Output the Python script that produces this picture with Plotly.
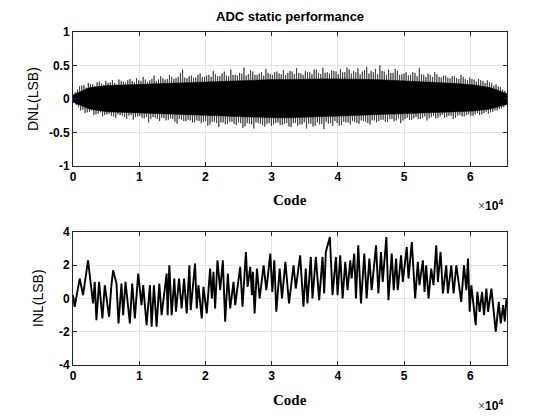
import plotly.graph_objects as go

# ---------------- data ----------------
# DNL: spike envelope (upper / lower) read at 100 evenly spaced codes (0 .. 65535)
dnl_upper = [0.05, 0.14, 0.20, 0.17, 0.22, 0.19, 0.26, 0.21, 0.24, 0.28,
             0.22, 0.27, 0.24, 0.30, 0.25, 0.28, 0.33, 0.26, 0.30, 0.27,
             0.34, 0.29, 0.36, 0.30, 0.33, 0.44, 0.31, 0.35, 0.32, 0.38,
             0.33, 0.36, 0.42, 0.34, 0.38, 0.35, 0.44, 0.36, 0.39, 0.47,
             0.37, 0.41, 0.36, 0.40, 0.45, 0.37, 0.40, 0.38, 0.43, 0.39,
             0.41, 0.46, 0.38, 0.42, 0.40, 0.44, 0.39, 0.47, 0.40, 0.43,
             0.41, 0.45, 0.40, 0.44, 0.42, 0.46, 0.41, 0.48, 0.42, 0.45,
             0.50, 0.41, 0.44, 0.39, 0.42, 0.37, 0.40, 0.36, 0.39, 0.46,
             0.36, 0.38, 0.33, 0.37, 0.32, 0.35, 0.31, 0.34, 0.30, 0.33,
             0.28, 0.30, 0.26, 0.28, 0.24, 0.25, 0.20, 0.19, 0.14, 0.05]
dnl_lower = [-0.04, -0.12, -0.16, -0.20, -0.17, -0.23, -0.20, -0.24, -0.22, -0.26,
             -0.23, -0.25, -0.30, -0.24, -0.27, -0.25, -0.29, -0.35, -0.27, -0.30,
             -0.28, -0.32, -0.29, -0.34, -0.30, -0.33, -0.31, -0.35, -0.32, -0.36,
             -0.33, -0.38, -0.34, -0.42, -0.35, -0.37, -0.34, -0.39, -0.36, -0.41,
             -0.37, -0.44, -0.36, -0.39, -0.37, -0.40, -0.36, -0.39, -0.37, -0.41,
             -0.36, -0.40, -0.38, -0.44, -0.37, -0.40, -0.38, -0.45, -0.37, -0.40,
             -0.36, -0.39, -0.35, -0.38, -0.34, -0.37, -0.33, -0.36, -0.32, -0.35,
             -0.31, -0.34, -0.30, -0.33, -0.29, -0.32, -0.28, -0.31, -0.27, -0.30,
             -0.26, -0.29, -0.25, -0.28, -0.24, -0.27, -0.25, -0.28, -0.24, -0.26,
             -0.23, -0.25, -0.21, -0.23, -0.19, -0.20, -0.17, -0.15, -0.12, -0.05]
# second reading of the spikes, half-way between the codes above (99 values)
dnl_upper2 = [0.10, 0.19, 0.21, 0.24, 0.22, 0.25, 0.23, 0.27, 0.25, 0.24,
              0.29, 0.26, 0.28, 0.27, 0.31, 0.27, 0.29, 0.28, 0.35, 0.29,
              0.31, 0.30, 0.33, 0.31, 0.39, 0.32, 0.34, 0.31, 0.36, 0.33,
              0.35, 0.33, 0.37, 0.34, 0.41, 0.34, 0.36, 0.35, 0.38, 0.35,
              0.43, 0.36, 0.38, 0.35, 0.39, 0.36, 0.41, 0.37, 0.36, 0.42,
              0.37, 0.39, 0.36, 0.40, 0.37, 0.44, 0.37, 0.39, 0.38, 0.42,
              0.37, 0.40, 0.47, 0.38, 0.40, 0.37, 0.43, 0.38, 0.40, 0.37,
              0.42, 0.36, 0.39, 0.45, 0.36, 0.38, 0.35, 0.40, 0.34, 0.37,
              0.33, 0.36, 0.40, 0.33, 0.35, 0.32, 0.34, 0.31, 0.36, 0.30,
              0.32, 0.29, 0.30, 0.27, 0.28, 0.24, 0.22, 0.18, 0.12]
dnl_lower2 = [-0.09, -0.17, -0.21, -0.19, -0.24, -0.22, -0.26, -0.23, -0.25, -0.28,
              -0.24, -0.27, -0.25, -0.31, -0.26, -0.28, -0.27, -0.30, -0.28, -0.33,
              -0.29, -0.31, -0.30, -0.37, -0.31, -0.33, -0.32, -0.35, -0.33, -0.34,
              -0.40, -0.34, -0.36, -0.35, -0.38, -0.34, -0.37, -0.35, -0.43, -0.36,
              -0.38, -0.35, -0.37, -0.41, -0.36, -0.38, -0.35, -0.39, -0.36, -0.42,
              -0.36, -0.38, -0.35, -0.37, -0.41, -0.35, -0.37, -0.34, -0.36, -0.33,
              -0.40, -0.34, -0.35, -0.33, -0.36, -0.32, -0.34, -0.38, -0.32, -0.33,
              -0.31, -0.34, -0.30, -0.32, -0.36, -0.30, -0.31, -0.29, -0.30, -0.28,
              -0.32, -0.27, -0.29, -0.26, -0.28, -0.25, -0.30, -0.25, -0.26, -0.24,
              -0.25, -0.23, -0.24, -0.21, -0.22, -0.19, -0.17, -0.14, -0.09]
# DNL: solid core of the band, read at 27 evenly spaced codes
dnl_core_upper = [0.06, 0.17, 0.20, 0.21, 0.22, 0.23, 0.24, 0.25, 0.26, 0.27,
                  0.28, 0.28, 0.29, 0.29, 0.30, 0.30, 0.30, 0.30, 0.29, 0.28,
                  0.27, 0.26, 0.25, 0.23, 0.21, 0.17, 0.08]
dnl_core_lower = [-0.05, -0.15, -0.19, -0.20, -0.21, -0.22, -0.23, -0.24, -0.25, -0.26,
                  -0.27, -0.27, -0.28, -0.28, -0.28, -0.27, -0.26, -0.25, -0.24, -0.23,
                  -0.22, -0.21, -0.20, -0.19, -0.18, -0.15, -0.08]

# INL: peaks and troughs
inl_code = [0, 250, 1010, 1515, 2270, 2525, 3030, 3280, 3535, 3940,
            4440, 4800, 5450, 5800, 6060, 6565, 6870, 7320, 7575, 7930,
            8585, 8940, 9340, 9850, 10350, 10600, 11110, 11615, 11870, 12220,
            12625, 13030, 13380, 14140, 14290, 14545, 14900, 15300, 15550, 16010,
            16410, 16770, 17170, 17575, 17775, 18430, 18685, 18940, 19440, 19695,
            20200, 20705, 20960, 21210, 21460, 21815, 22220, 22625, 22980, 23380,
            23735, 24240, 24490, 25250, 25600, 26110, 26360, 26765, 27020, 27170,
            27420, 27775, 28180, 28785, 29190, 29795, 30100, 30400, 30700, 31210,
            31560, 32070, 32620, 33300, 33640, 34300, 34800, 35150, 35400, 35910,
            36160, 36670, 37170, 37680, 37930, 38180, 38790, 39190, 39700, 39950,
            40350, 40710, 41110, 41460, 41870, 42070, 42470, 42730, 43080, 43480,
            43990, 44340, 44750, 45100, 45760, 46110, 46510, 46770, 47320, 47630,
            48130, 48430, 48790, 49040, 49540, 49800, 50400, 50660, 51160, 51670,
            52070, 52320, 52830, 53080, 53330, 53690, 54090, 54440, 54850, 55100,
            55500, 55860, 56360, 56610, 57120, 57470, 57880, 58630, 59040, 59390,
            59645, 59900, 60150, 60810, 61060, 61410, 61770, 62070, 62420, 62675,
            63180, 63580, 63840, 64290, 64590, 64950, 65200, 65450, 65535]
inl_value = [0.2, -0.5, 1.2, 0.2, 2.3, 1.5, -0.3, 1.0, -1.3, 1.0,
             -1.2, 0.8, -1.1, 0.8, 1.7, 0.9, -1.5, 0.9, -1.0, 1.0,
             -1.5, 0.9, -1.2, 1.5, -0.4, 0.8, -1.6, 0.8, -1.7, 0.8,
             -1.7, 0.9, -1.0, 1.5, -1.0, 2.0, -1.0, 1.2, -0.8, 1.2,
             -0.6, 1.2, -0.9, 2.0, -0.7, 2.1, -0.6, 0.8, -1.2, 0.7,
             -0.9, 1.8, 0.0, 1.6, -0.6, 2.3, 0.5, 2.3, -1.4, 1.5,
             -0.6, 1.0, -0.4, 1.9, -0.5, 2.8, 0.7, 1.9, 0.2, 1.6,
             -0.9, 1.8, 0.0, 2.0, 0.5, 2.7, 0.4, 2.3, -0.8, 1.8,
             0.0, 2.2, -0.3, 2.0, 0.6, 2.6, -0.5, 1.8, -0.3, 2.5,
             0.0, 2.5, -0.1, 2.5, 0.3, 2.8, 3.7, 0.2, 2.5, 0.2,
             2.6, 0.0, 2.2, 0.5, 2.3, 1.2, 2.7, 0.0, 3.2, -0.3,
             2.7, 0.0, 2.4, 0.5, 3.2, 0.3, 2.8, 1.0, 3.7, -0.1,
             2.7, 0.5, 2.4, 0.5, 2.6, 1.0, 3.1, 1.2, 3.4, 0.0,
             2.2, 0.8, 2.3, 0.4, 2.0, 0.0, 1.8, 0.8, 3.2, 1.0,
             2.8, 0.3, 2.0, 0.3, 2.0, 0.3, 2.0, -0.2, 2.0, 0.5,
             2.4, -0.8, 0.8, -1.6, 0.4, -0.8, 0.4, -1.0, 0.6, -0.8,
             0.6, -1.0, -2.0, -0.2, -1.5, -0.4, -1.4, 0.0, -0.5]

x_tickvals = [0, 10000, 20000, 30000, 40000, 50000, 60000]
x_ticktext = ["0", "1", "2", "3", "4", "5", "6"]
dnl_ticks = [-1, -0.5, 0, 0.5, 1]
dnl_ticktext = ["-1", "-0.5", "0", "0.5", "1"]
inl_ticks = [-4, -2, 0, 2, 4]
inl_ticktext = ["-4", "-2", "0", "2", "4"]
max_code = 65535

# ---------------- figure ----------------
n = len(dnl_upper)
step = max_code / (n - 1)
dnl_x = [i * step for i in range(n)]
nc = len(dnl_core_upper)
core_x = [i * max_code / (nc - 1) for i in range(nc)]

# zig-zag through the spike readings
zz_x, zz_y = [], []
for i in range(n):
    zz_x.append(dnl_x[i]); zz_y.append(dnl_upper[i])
    zz_x.append(min(dnl_x[i] + step * 0.25, max_code)); zz_y.append(dnl_lower[i])
    if i < len(dnl_upper2):
        zz_x.append(dnl_x[i] + step * 0.5); zz_y.append(dnl_upper2[i])
        zz_x.append(dnl_x[i] + step * 0.75); zz_y.append(dnl_lower2[i])

fig = go.Figure()
fig.add_trace(go.Scatter(x=zz_x, y=zz_y, mode="lines",
                         line=dict(color="#262626", width=0.7),
                         xaxis="x", yaxis="y", showlegend=False))
fig.add_trace(go.Scatter(x=core_x + core_x[::-1], y=dnl_core_upper + dnl_core_lower[::-1],
                         fill="toself", fillcolor="black", mode="lines",
                         line=dict(color="black", width=0.5),
                         xaxis="x", yaxis="y", showlegend=False, hoverinfo="skip"))
fig.add_trace(go.Scatter(x=inl_code, y=inl_value, mode="lines",
                         line=dict(color="black", width=1.9),
                         xaxis="x2", yaxis="y2", showlegend=False))

tickfont = dict(family="Liberation Sans", size=12, color="black", weight="bold")
axis_common = dict(showline=True, linecolor="#262626", linewidth=1, mirror="ticks",
                   ticks="inside", ticklen=4, tickcolor="#262626",
                   showgrid=True, gridcolor="#e3e3e3", gridwidth=1,
                   zeroline=False, tickfont=tickfont, automargin=False)

fig.update_layout(
    width=560, height=420,
    paper_bgcolor="white", plot_bgcolor="white",
    margin=dict(l=73, r=53, t=0, b=0, autoexpand=False),
    xaxis=dict(domain=[0, 1], range=[0, max_code], anchor="y",
               tickvals=x_tickvals, ticktext=x_ticktext, **axis_common),
    yaxis=dict(domain=[0.6048, 0.9238], range=[-1, 1], anchor="x",
               tickvals=dnl_ticks, ticktext=dnl_ticktext, **axis_common),
    xaxis2=dict(domain=[0, 1], range=[0, max_code], anchor="y2",
                tickvals=x_tickvals, ticktext=x_ticktext, **axis_common),
    yaxis2=dict(domain=[0.1310, 0.4476], range=[-4, 4], anchor="x2",
                tickvals=inl_ticks, ticktext=inl_ticktext, **axis_common),
)

ann = []
ann.append(dict(text="<b>ADC static performance</b>", x=290, y=17,
                font=dict(family="Liberation Sans", size=13, color="black")))
for yc in (200, 400):
    ann.append(dict(text="<b>Code</b>", x=290, y=yc,
                    font=dict(family="Liberation Serif", size=15, color="black")))
for yc in (205, 405):
    ann.append(dict(text="<span style='color:#555'>×</span><b>10<sup>4</sup></b>",
                    x=490, y=yc,
                    font=dict(family="Liberation Sans", size=12, color="black")))
ann.append(dict(text="DNL(LSB)", x=33, y=99, textangle=-90,
                font=dict(family="Liberation Sans", size=14, color="black")))
ann.append(dict(text="INL(LSB)", x=38, y=298, textangle=-90,
                font=dict(family="Liberation Sans", size=14, color="black")))

# convert pixel positions to paper coordinates
plot_w = 560 - 73 - 53
for a in ann:
    px, py = a["x"], a["y"]
    a["x"] = (px - 73) / plot_w
    a["y"] = 1 - py / 420
    a["xref"] = "paper"
    a["yref"] = "paper"
    a["xanchor"] = "center"
    a["yanchor"] = "middle"
    a["showarrow"] = False
fig.update_layout(annotations=ann)

fig.write_html("out.html", config={"displayModeBar": False},
               post_script="document.body.style.margin='0px';")
